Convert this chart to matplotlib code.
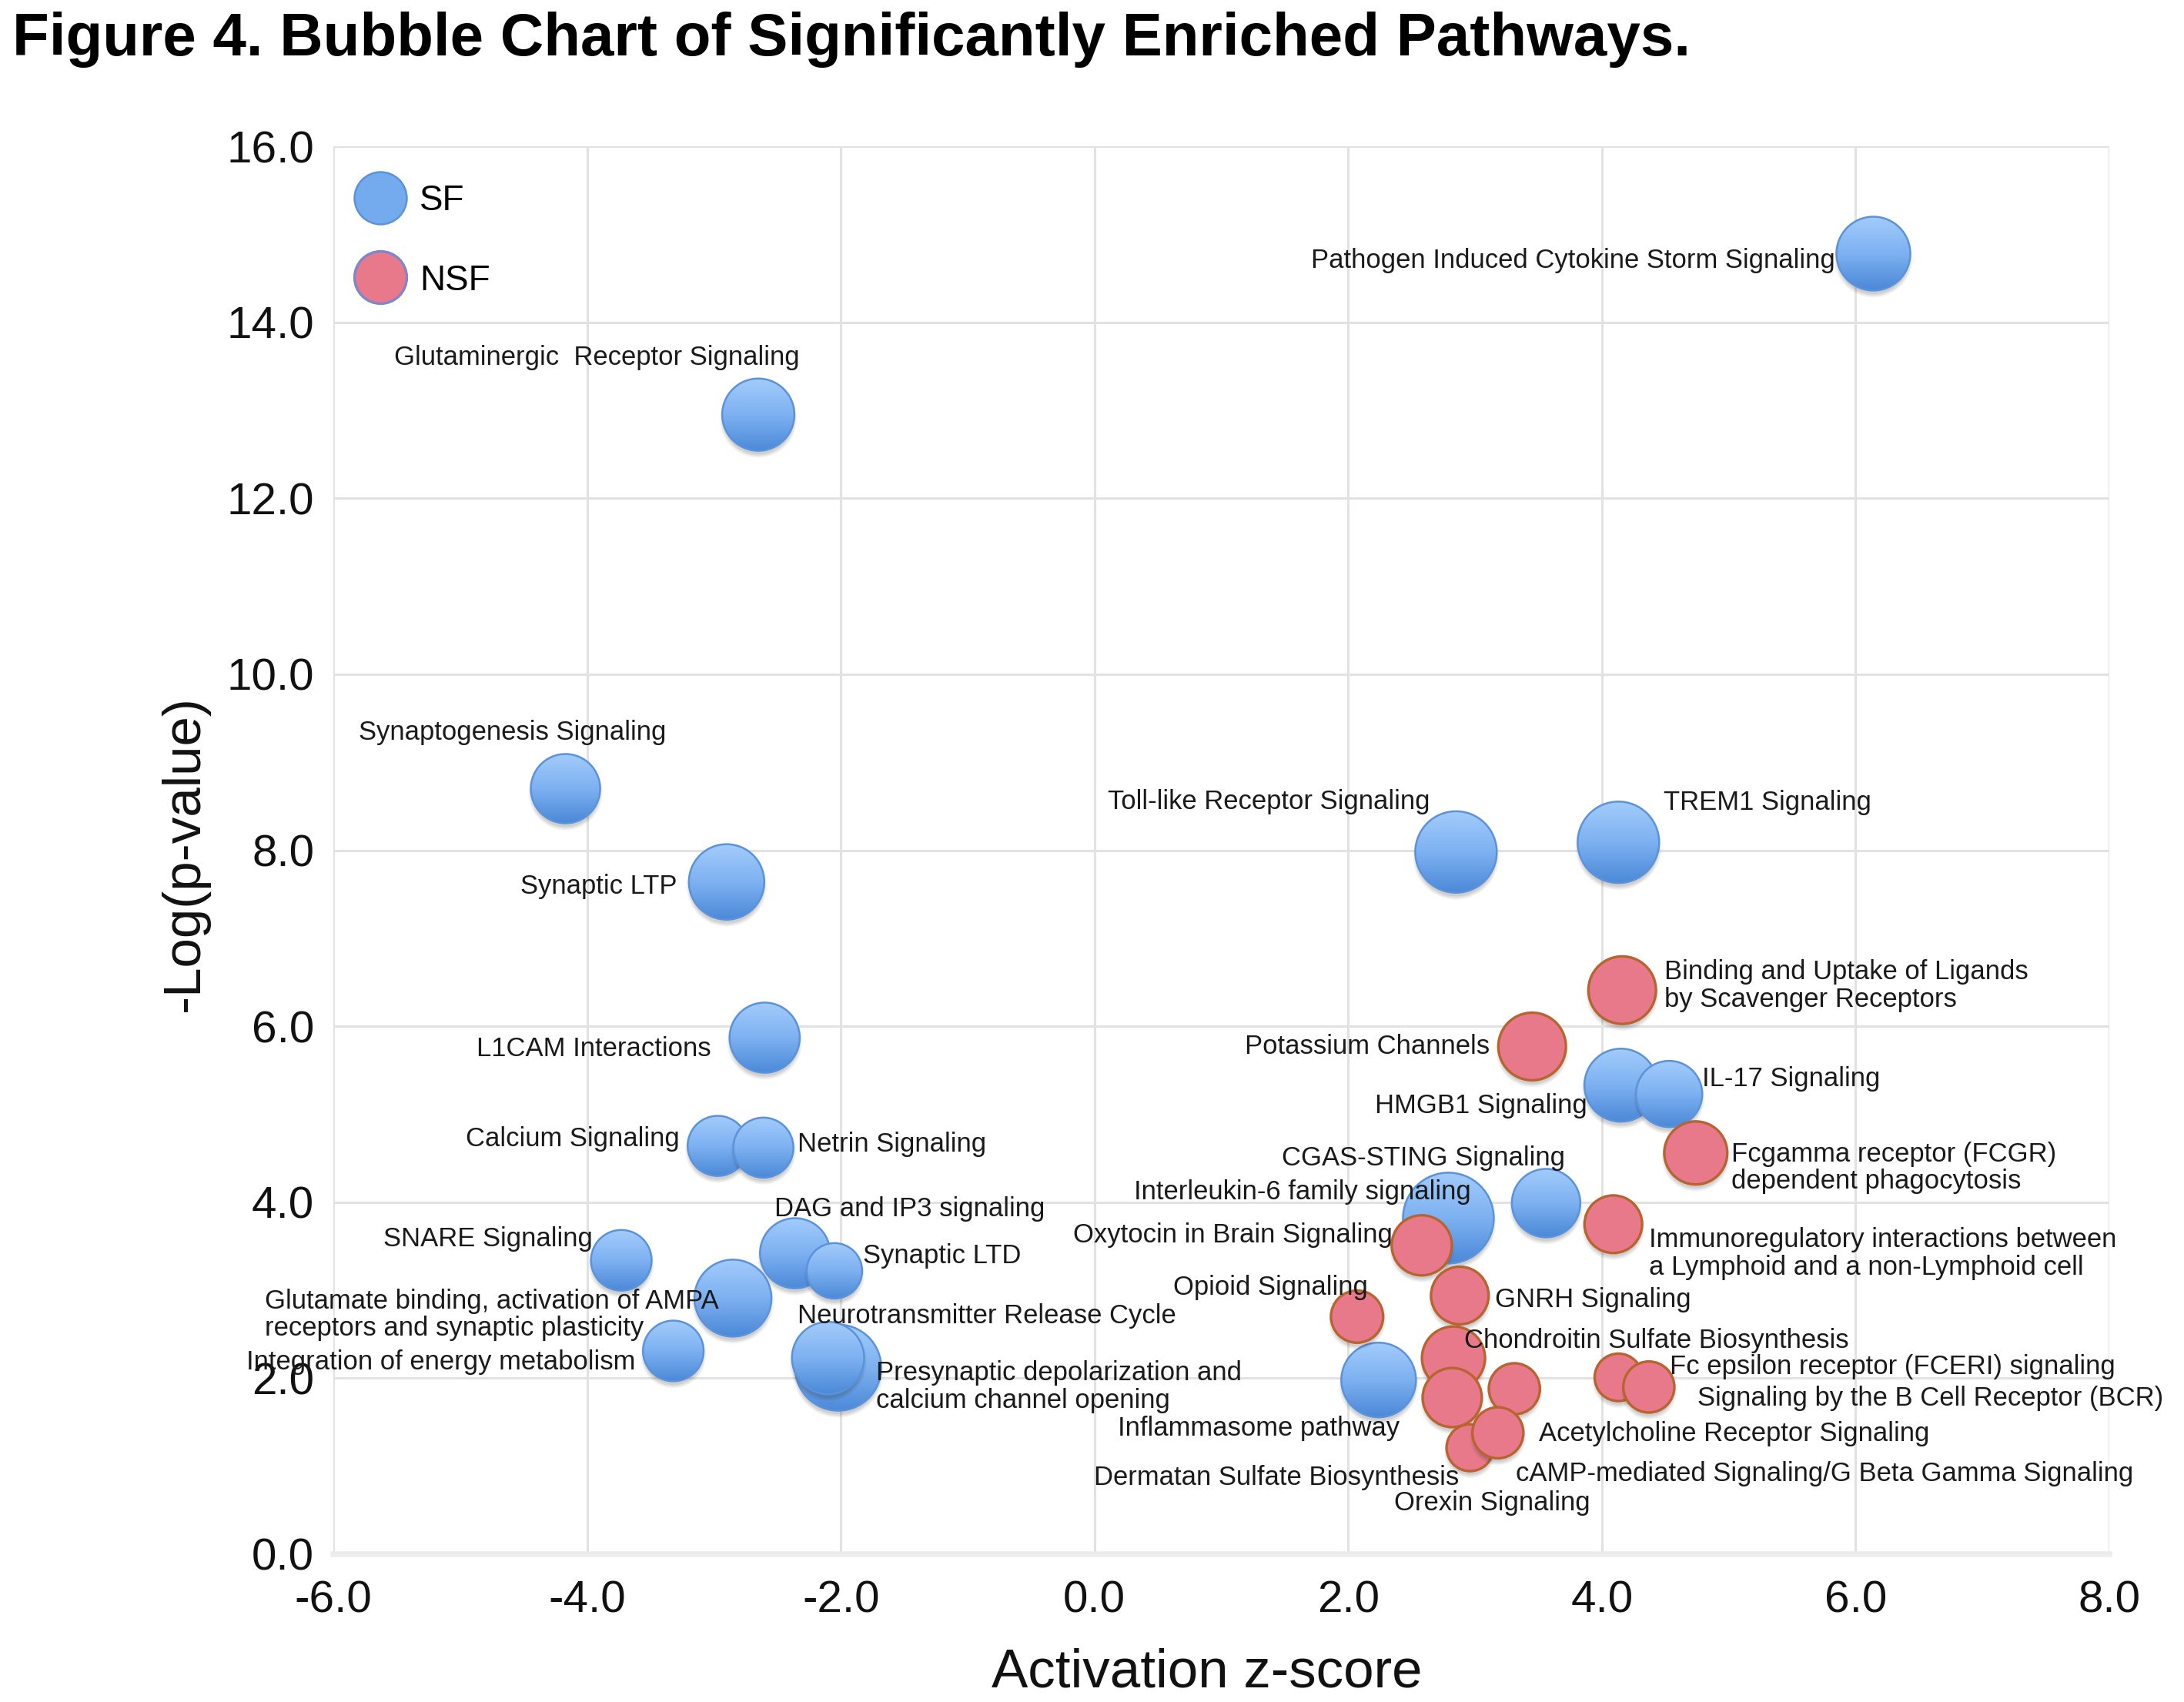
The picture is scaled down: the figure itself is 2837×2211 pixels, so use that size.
import numpy as np
import matplotlib
matplotlib.use("Agg")
import matplotlib.pyplot as plt
from matplotlib.patches import Ellipse
from matplotlib.colors import LinearSegmentedColormap
from matplotlib.lines import Line2D

plt.rcParams['font.family'] = ['Liberation Sans', 'DejaVu Sans']
plt.rcParams['axes.unicode_minus'] = False

# ---------------- data ----------------
sf_names = [
    "Pathogen Induced Cytokine Storm Signaling",
    "Glutaminergic  Receptor Signaling",
    "Synaptogenesis Signaling",
    "Synaptic LTP",
    "Toll-like Receptor Signaling",
    "TREM1 Signaling",
    "L1CAM Interactions",
    "HMGB1 Signaling",
    "IL-17 Signaling",
    "Calcium Signaling",
    "Netrin Signaling",
    "CGAS-STING Signaling",
    "Interleukin-6 family signaling",
    "SNARE Signaling",
    "DAG and IP3 signaling",
    "Synaptic LTD",
    "Glutamate binding, activation of AMPA\nreceptors and synaptic plasticity",
    "Integration of energy metabolism",
    "Presynaptic depolarization and\ncalcium channel opening",
    "Neurotransmitter Release Cycle",
    "Inflammasome pathway",
]
sf_z = [6.14, -2.65, -4.17, -2.90, 2.85, 4.13, -2.60, 4.15, 4.53, -2.97, -2.61,
        3.56, 2.79, -3.73, -2.36, -2.05, -2.85, -3.32, -2.02, -2.10, 2.24]
sf_logp = [14.78, 12.95, 8.70, 7.64, 7.98, 8.09, 5.87, 5.33, 5.23, 4.64, 4.62,
           3.99, 3.82, 3.34, 3.42, 3.22, 2.91, 2.31, 2.12, 2.23, 1.98]
sf_size = [92, 88, 81, 96, 112, 112, 83, 90, 74, 61, 61,
           79, 139, 62, 83, 52, 100, 62, 125, 88, 94]

nsf_names = [
    "Binding and Uptake of Ligands\nby Scavenger Receptors",
    "Potassium Channels",
    "Fcgamma receptor (FCGR)\ndependent phagocytosis",
    "Immunoregulatory interactions between\na Lymphoid and a non-Lymphoid cell",
    "Oxytocin in Brain Signaling",
    "GNRH Signaling",
    "Opioid Signaling",
    "Chondroitin Sulfate Biosynthesis",
    "Dermatan Sulfate Biosynthesis",
    "cAMP-mediated Signaling/G Beta Gamma Signaling",
    "Orexin Signaling",
    "Acetylcholine Receptor Signaling",
    "Fc epsilon receptor (FCERI) signaling",
    "Signaling by the B Cell Receptor (BCR)",
]
nsf_z = [4.16, 3.45, 4.74, 4.09, 2.58, 2.88, 2.07, 2.83, 2.82, 3.31, 2.96, 3.18, 4.13, 4.37]
nsf_logp = [6.41, 5.77, 4.56, 3.75, 3.51, 2.94, 2.70, 2.23, 1.78, 1.88, 1.21, 1.38, 2.01, 1.90]
nsf_size = [77, 77, 67, 56, 61, 56, 46, 67, 59, 44, 37, 44, 38, 44]

x_ticks = [-6.0, -4.0, -2.0, 0.0, 2.0, 4.0, 6.0, 8.0]
y_ticks = [0.0, 2.0, 4.0, 6.0, 8.0, 10.0, 12.0, 14.0, 16.0]
x_ticklabels = ["-6.0", "-4.0", "-2.0", "0.0", "2.0", "4.0", "6.0", "8.0"]
y_ticklabels = ["0.0", "2.0", "4.0", "6.0", "8.0", "10.0", "12.0", "14.0", "16.0"]

# ---------------- label placement (offset in points, alignment) ----------------
sf_label_pos = [
    ((-12, -2.2), 'right'), ((-50.4, 17.8), 'center'), ((-16.6, 17.5), 'center'),
    ((-15.4, -1.4), 'right'), ((-8.2, 15.6), 'right'), ((14.2, 12.5), 'left'),
    ((-16.6, -3.4), 'right'), ((-10.6, -6.5), 'right'), ((10.3, 4.6), 'left'),
    ((-12, 2.2), 'right'), ((10.6, 1.0), 'left'), ((5.8, 13.9), 'right'),
    ((7.0, 8.2), 'right'), ((-8.9, 6.7), 'right'), ((35.8, 13.9), 'center'),
    ((8.9, 4.6), 'left'), ((-145.9, -5.2), 'left'), ((-11.8, -3.6), 'right'),
    ((11.8, -6.0), 'left'), ((-9.6, 13.0), 'left'), ((6.5, -15.1), 'right'),
]
nsf_label_pos = [
    ((13.2, 1.4), 'left'), ((-13.2, 0.0), 'right'), ((11.0, -4.6), 'left'),
    ((11.0, -9.1), 'left'), ((-9.1, 3.1), 'right'), ((11.0, -1.4), 'left'),
    ((3.4, 9.1), 'right'), ((3.4, 5.5), 'left'), ((2.2, -25.0), 'right'),
    ((0.5, -26.6), 'left'), ((7.0, -17.3), 'center'), ((12.7, -0.2), 'left'),
    ((16.1, 3.4), 'left'), ((15.1, -3.6), 'left'),
]

# ---------------- figure ----------------
W, H, DPI = 2837, 2211, 300
fig = plt.figure(figsize=(W / DPI, H / DPI), dpi=DPI)
ax = fig.add_axes([433 / W, 1 - 2019 / H, (2740 - 433) / W, (2019 - 190) / H])
ax.set_xlim(-6, 8)
ax.set_ylim(0, 16)
ax.set_autoscale_on(False)

ax.set_xticks(x_ticks)
ax.set_xticklabels(x_ticklabels)
ax.set_yticks(y_ticks)
ax.set_yticklabels(y_ticklabels)
ax.tick_params(axis='both', length=0, labelsize=14, colors='#111111')
ax.tick_params(axis='x', pad=8)
ax.tick_params(axis='y', pad=6)
ax.grid(True, color='#E2E2E2', linewidth=0.75, zorder=0)
ax.set_axisbelow(True)
for s in ['top', 'right', 'left']:
    ax.spines[s].set_visible(False)
ax.spines['bottom'].set_color('#ECECEC')
ax.spines['bottom'].set_linewidth(1.8)

# pixels per data unit
p0 = ax.transData.transform((0, 0))
p1 = ax.transData.transform((1, 1))
ppx, ppy = p1[0] - p0[0], p1[1] - p0[1]

blue_cmap = LinearSegmentedColormap.from_list('b', ['#A2CBFB', '#7DB1F1', '#4C89D8'])
grad = np.linspace(0, 1, 64).reshape(-1, 1)

z = [2.0]


def bubble(x, y, size, kind):
    d = 10.0 * np.sqrt(size)  # diameter in pixels
    w, h = d / ppx, d / ppy
    zz = z[0]
    # soft shadow
    for extra, a in [(6, 0.05), (3, 0.06), (0, 0.07), (-3, 0.07)]:
        ax.add_patch(Ellipse((x, y - 6 / ppy), (d + extra) / ppx, (d + extra) / ppy,
                             facecolor='#303030', edgecolor='none', alpha=a, zorder=zz))
    if kind == 'sf':
        edge = Ellipse((x, y), w, h, facecolor='none', edgecolor='#5B93DB',
                       linewidth=0.6, zorder=zz + 0.2)
        ax.add_patch(edge)
        im = ax.imshow(grad, cmap=blue_cmap, extent=[x - w / 2, x + w / 2, y - h / 2, y + h / 2],
                       aspect='auto', interpolation='bilinear', zorder=zz + 0.1, origin='upper')
        im.set_clip_path(edge)
    else:
        ax.add_patch(Ellipse((x, y), w, h, facecolor='#E7798A', edgecolor='#B8642F',
                             linewidth=0.8, zorder=zz + 0.1))
    z[0] += 0.5


for xi, yi, si in zip(sf_z, sf_logp, sf_size):
    bubble(xi, yi, si, 'sf')
for xi, yi, si in zip(nsf_z, nsf_logp, nsf_size):
    bubble(xi, yi, si, 'nsf')

ax.set_xlim(-6, 8)
ax.set_ylim(0, 16)

# labels
for names, xs, ys, pos in [(sf_names, sf_z, sf_logp, sf_label_pos),
                           (nsf_names, nsf_z, nsf_logp, nsf_label_pos)]:
    for n, xi, yi, (off, ha) in zip(names, xs, ys, pos):
        ax.annotate(n, (xi, yi), xytext=off, textcoords='offset points',
                    ha=ha, va='center', fontsize=8.3, color='#1a1a1a',
                    linespacing=1.1, multialignment='left', zorder=100)

# legend
handles = [
    Line2D([], [], marker='o', linestyle='none', markersize=16.3,
           markerfacecolor='#74AAEE', markeredgecolor='#5B93DB', markeredgewidth=0.6),
    Line2D([], [], marker='o', linestyle='none', markersize=16.3,
           markerfacecolor='#E7798A', markeredgecolor='#7E86CC', markeredgewidth=0.8),
]
leg = ax.legend(handles, ['SF', 'NSF'], loc='upper left', bbox_to_anchor=(0.0117, 0.973),
                frameon=False, fontsize=11, borderpad=0, handlelength=1.5,
                handletextpad=0.35, labelspacing=1.29, borderaxespad=0)
leg.set_zorder(200)

# axis labels
ax.set_xlabel("Activation z-score", fontsize=17, color='#111111')
ax.xaxis.set_label_coords((1568 - 433) / (2740 - 433), (2019 - 2173) / (2019 - 190))
ax.xaxis.label.set_va('center')
ax.set_ylabel("-Log(p-value)", fontsize=16.6, color='#111111')
ax.yaxis.set_label_coords((240 - 433) / (2740 - 433), 0.498)
ax.yaxis.label.set_va('center')

fig.text(16 / W, 1 - 72 / H, "Figure 4. Bubble Chart of Significantly Enriched Pathways.",
         fontsize=18.75, fontweight='bold', ha='left', va='baseline', color='#000000')

fig.savefig("out.png", dpi=DPI)
